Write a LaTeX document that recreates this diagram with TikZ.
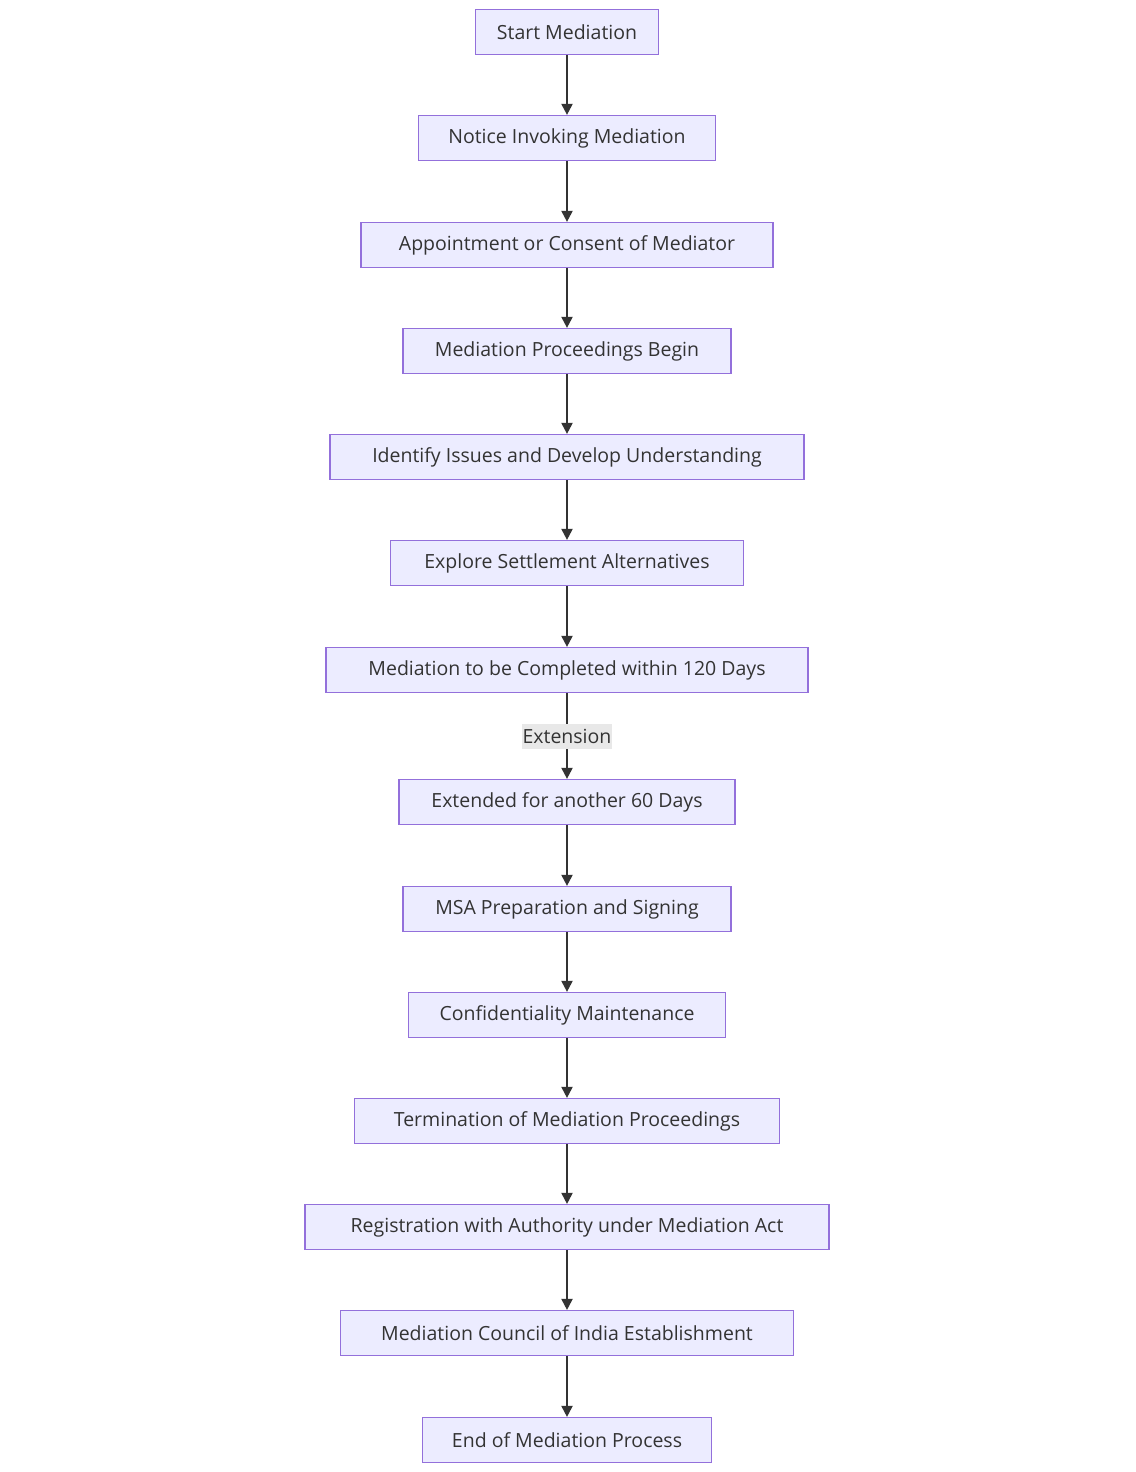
\documentclass[tikz,border=0pt]{standalone}
\usepackage{fontspec}
\setmainfont{Open Sans}
\usetikzlibrary{arrows.meta}
\definecolor{nfill}{HTML}{ECECFF}
\definecolor{nstroke}{HTML}{9370DB}
\definecolor{ntext}{HTML}{333333}
\begin{document}
\begin{tikzpicture}[x=1pt,y=-1pt,
  box/.style={draw=nstroke,fill=nfill,line width=1.2pt,text=ntext,minimum height=45pt,inner sep=0pt,font=\fontsize{19.5}{22}\selectfont},
  link/.style={draw=ntext,line width=2pt,-{Triangle[length=11pt,width=11pt]}}]
\useasboundingbox (0,0) rectangle (1135,1472);
\fill[white] (0,0) rectangle (1135,1472);
\node[box,minimum width=183pt] (n1) at (567,32) {Start Mediation};
\node[box,minimum width=297pt] (n2) at (567,138) {Notice Invoking Mediation};
\node[box,minimum width=412pt] (n3) at (567,245) {Appointment or Consent of Mediator};
\node[box,minimum width=328pt] (n4) at (567,351) {Mediation Proceedings Begin};
\node[box,minimum width=474pt] (n5) at (567,457) {Identify Issues and Develop Understanding};
\node[box,minimum width=353pt] (n6) at (567,563) {Explore Settlement Alternatives};
\node[box,minimum width=482pt] (n7) at (567,670) {Mediation to be Completed within 120 Days};
\node[box,minimum width=336pt] (n8) at (567,802) {Extended for another 60 Days};
\node[box,minimum width=328pt] (n9) at (567,909) {MSA Preparation and Signing};
\node[box,minimum width=317pt] (n10) at (567,1015) {Confidentiality Maintenance};
\node[box,minimum width=425pt] (n11) at (567,1121) {Termination of Mediation Proceedings};
\node[box,minimum width=524pt] (n12) at (567,1227) {Registration with Authority under Mediation Act};
\node[box,minimum width=453pt] (n13) at (567,1333) {Mediation Council of India Establishment};
\node[box,minimum width=289pt] (n14) at (567,1440) {End of Mediation Process};
\foreach \a/\b in {n1/n2,n2/n3,n3/n4,n4/n5,n5/n6,n6/n7,n8/n9,n9/n10,n10/n11,n11/n12,n12/n13,n13/n14}
  \draw[link] (\a) -- (\b);
\draw[link] (n7) -- node[fill=black!9,text=ntext,inner sep=1pt,minimum height=25pt,font=\fontsize{19.5}{22}\selectfont]{Extension} (n8);
\end{tikzpicture}
\end{document}
